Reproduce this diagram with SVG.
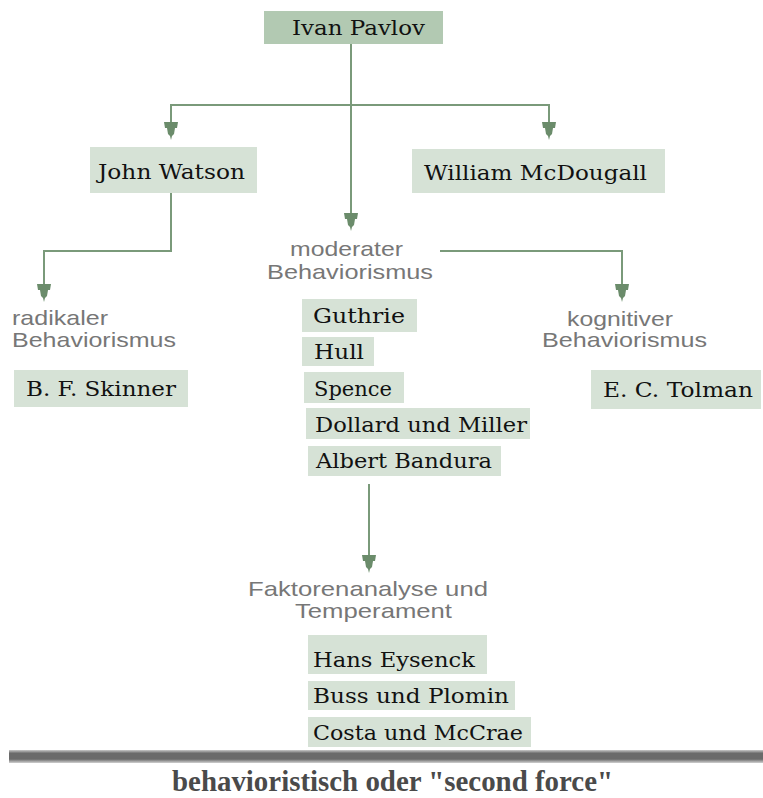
<svg xmlns="http://www.w3.org/2000/svg" xmlns:xlink="http://www.w3.org/1999/xlink" width="763" height="798" viewBox="0 0 763 798">
<style>
.box{fill:#d6e2d6}
.top{fill:#b2c9b2}
.nt{font-family:"DejaVu Serif","Liberation Serif",serif;font-size:20px;fill:#111}
.lb{font-family:"Liberation Sans",Arial,sans-serif;font-size:21px;fill:#777}
.ln{fill:none;stroke:#7a9a7a;stroke-width:2}
.cap{font-family:"Liberation Serif","Times New Roman",serif;font-size:30px;font-weight:bold;fill:#4a4a4a}
</style>
<defs>
<path id="arr" d="M-7,-18 L7,-18 L6,-12 L4,-12 L3,-6 L1,-4 L0,0 L-1,-4 L-3,-6 L-4,-12 L-6,-12 Z" fill="#6b8c6b"/>
<linearGradient id="bar" x1="0" y1="0" x2="0" y2="1">
<stop offset="0" stop-color="#c8c8c8"/>
<stop offset="0.25" stop-color="#6a6a6a"/>
<stop offset="0.7" stop-color="#6a6a6a"/>
<stop offset="1" stop-color="#d0d0d0"/>
</linearGradient>
</defs>
<rect width="763" height="798" fill="#fff"/>
<g id="connectors">
<path class="ln" d="M351,44 V214"/>
<path class="ln" d="M171,123 V105 H549 V123"/>
<path class="ln" d="M171,193 V251 H44 V285"/>
<path class="ln" d="M440,251 H622 V285"/>
<path class="ln" d="M369,484 V556"/>
<use xlink:href="#arr" x="171" y="140"/>
<use xlink:href="#arr" x="549" y="140"/>
<use xlink:href="#arr" x="351" y="231"/>
<use xlink:href="#arr" x="44" y="302"/>
<use xlink:href="#arr" x="622" y="302"/>
<use xlink:href="#arr" x="369" y="573"/>
</g>
<g id="pavlov"><rect class="top" x="264" y="11" width="179" height="33"/><text class="nt" x="292" y="35" textLength="133" lengthAdjust="spacingAndGlyphs">Ivan Pavlov</text></g>
<g id="watson"><rect class="box" x="90" y="147" width="167" height="46"/><text class="nt" x="98" y="179" textLength="147" lengthAdjust="spacingAndGlyphs">John Watson</text></g>
<g id="mcdougall"><rect class="box" x="412" y="149" width="253" height="44"/><text class="nt" x="424" y="180" textLength="223" lengthAdjust="spacingAndGlyphs">William McDougall</text></g>
<g id="radikaler"><text class="lb" x="12" y="325" textLength="96" lengthAdjust="spacingAndGlyphs">radikaler</text><text class="lb" x="12" y="347" textLength="164" lengthAdjust="spacingAndGlyphs">Behaviorismus</text></g>
<g id="moderater"><text class="lb" x="290" y="256" textLength="113" lengthAdjust="spacingAndGlyphs">moderater</text><text class="lb" x="267" y="279" textLength="166" lengthAdjust="spacingAndGlyphs">Behaviorismus</text></g>
<g id="kognitiver"><text class="lb" x="567" y="326" textLength="106" lengthAdjust="spacingAndGlyphs">kognitiver</text><text class="lb" x="542" y="347" textLength="165" lengthAdjust="spacingAndGlyphs">Behaviorismus</text></g>
<g id="skinner"><rect class="box" x="14" y="370" width="174" height="37"/><text class="nt" x="26" y="396" textLength="150" lengthAdjust="spacingAndGlyphs">B. F. Skinner</text></g>
<g id="tolman"><rect class="box" x="591" y="370" width="170" height="39"/><text class="nt" x="603" y="397" textLength="150" lengthAdjust="spacingAndGlyphs">E. C. Tolman</text></g>
<g id="guthrie"><rect class="box" x="302" y="299" width="115" height="33"/><text class="nt" x="313" y="323" textLength="92" lengthAdjust="spacingAndGlyphs">Guthrie</text></g>
<g id="hull"><rect class="box" x="302" y="337" width="72" height="29"/><text class="nt" x="314" y="359" textLength="50" lengthAdjust="spacingAndGlyphs">Hull</text></g>
<g id="spence"><rect class="box" x="304" y="372" width="100" height="31"/><text class="nt" x="314" y="396" textLength="78" lengthAdjust="spacingAndGlyphs">Spence</text></g>
<g id="dollard"><rect class="box" x="306" y="408" width="224" height="31"/><text class="nt" x="315" y="432" textLength="212" lengthAdjust="spacingAndGlyphs">Dollard und Miller</text></g>
<g id="bandura"><rect class="box" x="308" y="446" width="193" height="30"/><text class="nt" x="316" y="468" textLength="176" lengthAdjust="spacingAndGlyphs">Albert Bandura</text></g>
<g id="faktoren"><text class="lb" x="248" y="596" textLength="240" lengthAdjust="spacingAndGlyphs">Faktorenanalyse und</text><text class="lb" x="295" y="618" textLength="157" lengthAdjust="spacingAndGlyphs">Temperament</text></g>
<g id="eysenck"><rect class="box" x="308" y="635" width="179" height="39"/><text class="nt" x="313" y="667" textLength="162" lengthAdjust="spacingAndGlyphs">Hans Eysenck</text></g>
<g id="buss"><rect class="box" x="308" y="681" width="207" height="29"/><text class="nt" x="313" y="703" textLength="196" lengthAdjust="spacingAndGlyphs">Buss und Plomin</text></g>
<g id="costa"><rect class="box" x="308" y="717" width="223" height="30"/><text class="nt" x="313" y="740" textLength="210" lengthAdjust="spacingAndGlyphs">Costa und McCrae</text></g>
<rect x="9" y="750" width="754" height="13" fill="url(#bar)"/>
<text class="cap" x="172" y="791" textLength="441" lengthAdjust="spacingAndGlyphs">behavioristisch oder "second force"</text>
</svg>
